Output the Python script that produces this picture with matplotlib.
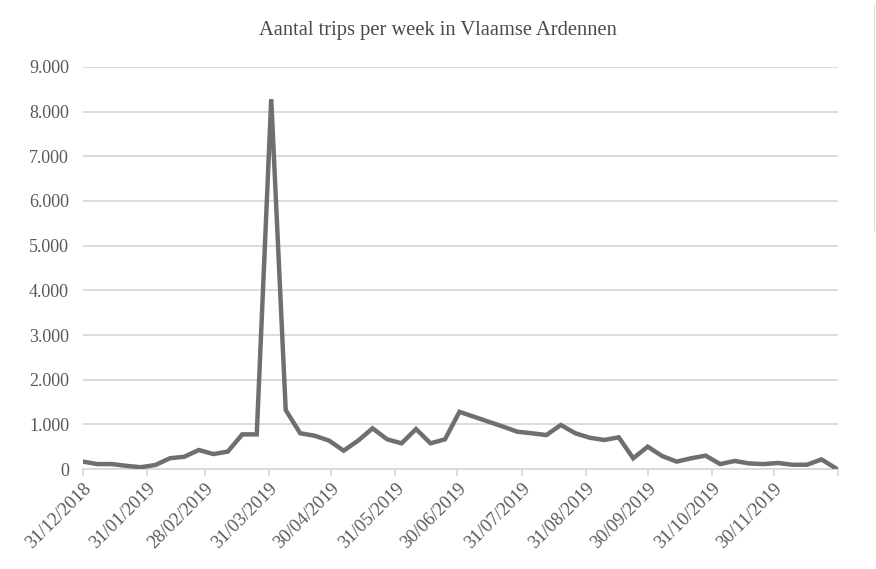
import numpy as np
import pandas as pd
import matplotlib
matplotlib.use("Agg")
import matplotlib.pyplot as plt
import matplotlib.dates as mdates
from matplotlib.ticker import FuncFormatter, MultipleLocator

title = "Aantal trips per week in Vlaamse Ardennen"

# weekly counts, first week starts 31/12/2018
weekStart = "2018-12-31"
trips = [165, 110, 110, 70, 40, 90, 240, 275, 425, 335,
         390, 775, 775, 8280, 1320, 800, 745, 635, 410, 635,
         910, 665, 575, 895, 575, 665, 1280, 1170, 1060, 950,
         835, 800, 760, 985, 800, 700, 650, 710, 240, 500,
         290, 165, 240, 300, 110, 180, 125, 110, 135, 95,
         95, 215, 15]
weeks = pd.date_range(weekStart, periods=len(trips), freq="7D")

tickDates = pd.date_range("2018-12-31", "2019-12-31", freq="ME")
tickLabels = [d.strftime("%d/%m/%Y") for d in tickDates[:-1]] + [""]

lineColor = "#6f6f6f"
gridColor = "#d9d9d9"
textColor = "#595959"
plt.rcParams["font.family"] = ["Liberation Serif", "DejaVu Serif"]

fig = plt.figure(figsize=(8.76, 5.69), dpi=100)
ax = fig.add_axes([83/876, 100/569, 755/876, 402/569])

ax.plot(weeks, trips, color=lineColor, linewidth=3.2, solid_joinstyle="miter", zorder=3)

ax.set_ylim(0, 9000)
ax.yaxis.set_major_locator(MultipleLocator(1000))
ax.yaxis.set_major_formatter(FuncFormatter(lambda v, p: f"{int(v):,}".replace(",", ".")))
ax.grid(axis="y", color=gridColor, linewidth=1.3, zorder=0)

ax.set_xlim(pd.Timestamp("2018-12-31"), pd.Timestamp("2019-12-31"))
ax.set_xticks(tickDates)
ax.set_xticklabels(tickLabels, rotation=45, ha="right", rotation_mode="anchor")

for s in ["left", "right", "top"]:
    ax.spines[s].set_visible(False)
ax.spines["bottom"].set_color(gridColor)
ax.spines["bottom"].set_linewidth(1.3)
ax.tick_params(axis="y", length=0, pad=10, labelsize=13, labelcolor=textColor)
ax.tick_params(axis="x", length=5, width=1.3, color=gridColor, pad=3,
               labelsize=13.3, labelcolor=textColor)

fig.text(438/876, 1 - 30/569, title, ha="center", va="center", fontsize=14.8, color="#4a4a4a")

# thin border visible at the right edge of the screenshot
fig.add_artist(plt.Line2D([874/876, 874/876], [1 - 230/569, 1 - 5/569],
                          color="#dddddd", linewidth=0.8, transform=fig.transFigure))

fig.savefig("out.png", dpi=100)
